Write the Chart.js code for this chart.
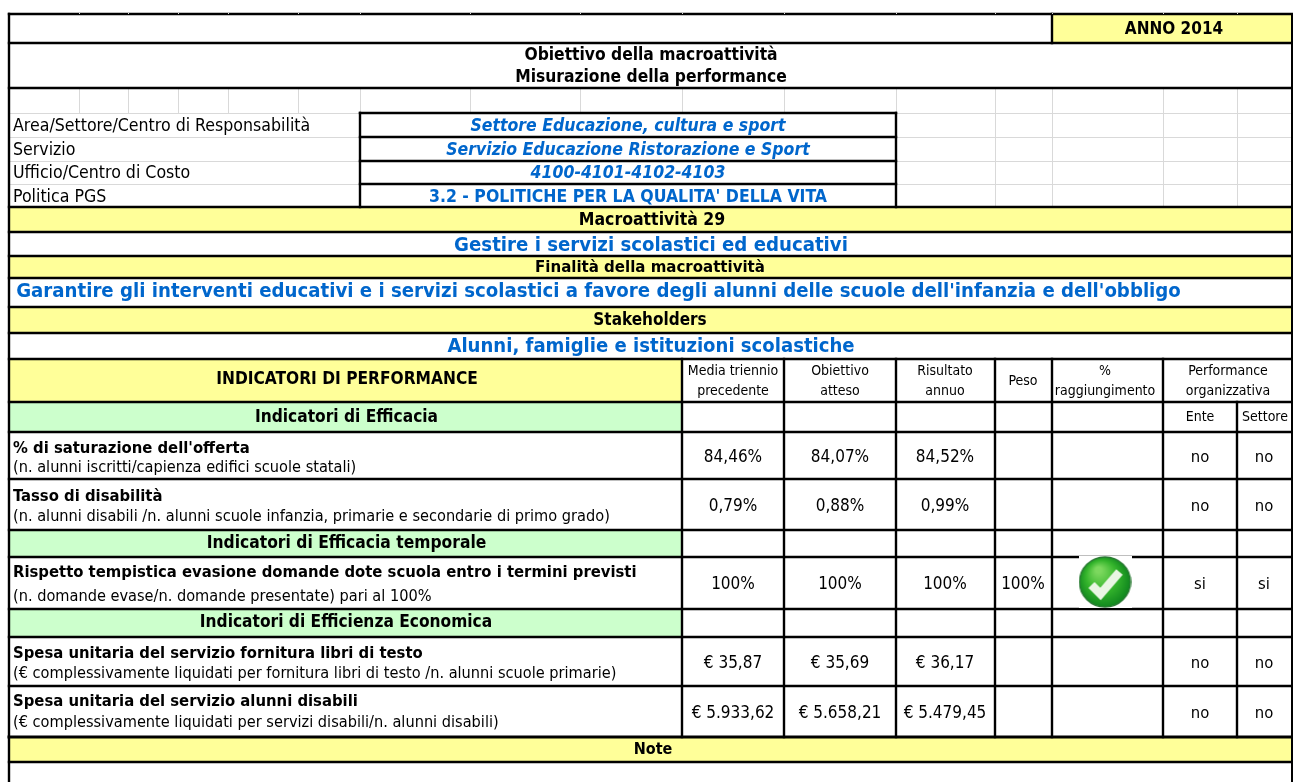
<!DOCTYPE html>
<html>
<head>
<meta charset="utf-8">
<title>Obiettivo della macroattività</title>
<style>
  html, body { margin: 0; padding: 0; background: #fff; }
  canvas { display: block; }
</style>
<script src="https://cdn.jsdelivr.net/npm/chart.js@4/dist/chart.umd.min.js"></script>
</head>
<body>
<canvas id="canvas1" width="1293" height="782"></canvas>
<script>
var anno = 'ANNO 2014';
var titoli = ['Obiettivo della macroattività', 'Misurazione della performance'];
var campi = ['Area/Settore/Centro di Responsabilità', 'Servizio', 'Ufficio/Centro di Costo', 'Politica PGS'];
var campiValori = ['Settore Educazione, cultura e sport', 'Servizio Educazione Ristorazione e Sport', '4100-4101-4102-4103', "3.2 - POLITICHE PER LA QUALITA' DELLA VITA"];
var sezioni = ['Macroattività 29', 'Finalità della macroattività', 'Stakeholders', 'Note'];
var sezioniValori = ['Gestire i servizi scolastici ed educativi', "Garantire gli interventi educativi e i servizi scolastici a favore degli alunni delle scuole dell'infanzia e dell'obbligo", 'Alunni, famiglie e istituzioni scolastiche'];
var gruppi = ['Indicatori di Efficacia', 'Indicatori di Efficacia temporale', 'Indicatori di Efficienza Economica'];
var intestazione = 'INDICATORI DI PERFORMANCE';
var colonne = [['Media triennio', 'precedente'], ['Obiettivo', 'atteso'], ['Risultato', 'annuo'], ['Peso'], ['%', 'raggiungimento'], ['Performance', 'organizzativa']];
var sottoColonne = ['Ente', 'Settore'];
var indicatori = ["% di saturazione dell'offerta", 'Tasso di disabilità', 'Rispetto tempistica evasione domande dote scuola entro i termini previsti', 'Spesa unitaria del servizio fornitura libri di testo', 'Spesa unitaria del servizio alunni disabili'];
var descrizioni = ['(n. alunni iscritti/capienza edifici scuole statali)', '(n. alunni disabili /n. alunni scuole infanzia, primarie e secondarie di primo grado)', '(n. domande evase/n. domande presentate) pari al 100%', '(€ complessivamente liquidati per fornitura libri di testo /n. alunni scuole primarie)', '(€ complessivamente liquidati per servizi disabili/n. alunni disabili)'];
var mediaTriennio = ['84,46%', '0,79%', '100%', '€ 35,87', '€ 5.933,62'];
var obiettivoAtteso = ['84,07%', '0,88%', '100%', '€ 35,69', '€ 5.658,21'];
var risultatoAnnuo = ['84,52%', '0,99%', '100%', '€ 36,17', '€ 5.479,45'];
var peso = ['', '', '100%', '', ''];
var ente = ['no', 'no', 'si', 'no', 'no'];
var settore = ['no', 'no', 'si', 'no', 'no'];

// table layout, in the units of the two axes
var rows = [14, 43, 88, 113, 137, 161, 184, 207, 232, 256, 278, 307, 333, 359, 402, 432, 479, 530, 557, 609, 637, 686, 737, 762, 782];
var topCols = [79, 128, 178, 228, 298, 360, 470, 580, 682, 784, 896, 995, 1052, 1163, 1237];
var cols = [9, 682, 784, 896, 995, 1052, 1163, 1237, 1292];
var boxLeft = 360;
var nameY = [450, 498, 574, 655, 703];
var descY = [468, 517, 597, 674, 723];
var valueY = [459, 508, 586, 665, 715];

var FONT = '"DejaVu Sans Condensed", "DejaVu Sans", "Noto Sans", sans-serif';
var BLUE = '#0066cc';
var YELLOW = '#ffff99';
var GREEN = '#ccffcc';
var LIGHT = '#d9d9d9';
var LEFT = cols[0];
var RIGHT = cols[8];

function fillCell(x0, x1, y0, y1, color) {
  return {
    data: [{x: x0, y: y0}, {x: x1, y: y0}],
    fill: {target: {value: y1}},
    backgroundColor: color,
    borderWidth: 0,
    pointRadius: 0,
    order: 3
  };
}

function rule(x0, y0, x1, y1, color, width) {
  return {
    data: [{x: x0, y: y0}, {x: x1, y: y1}],
    fill: false,
    borderColor: color,
    borderWidth: width,
    borderCapStyle: 'square',
    pointRadius: 0,
    order: color === LIGHT ? 2 : 1
  };
}

function buildDatasets() {
  var sets = [];
  // coloured rows
  [[LEFT, RIGHT, 207, 232], [LEFT, RIGHT, 256, 278], [LEFT, RIGHT, 307, 333], [LEFT, 682, 359, 402], [LEFT, RIGHT, 737, 762], [1052, RIGHT, 14, 43]].forEach(function(c) {
    sets.push(fillCell(c[0], c[1], c[2], c[3], YELLOW));
  });
  [[402, 432], [530, 557], [609, 637]].forEach(function(c) {
    sets.push(fillCell(LEFT, 682, c[0], c[1], GREEN));
  });

  // light sheet grid in the upper part
  topCols.forEach(function(x) {
    sets.push(rule(x + 0.5, 88, x + 0.5, x < 896 ? 113 : 207, LIGHT, 1));
    // small grey notch in the top border
    var notch = rule(x + 0.5, 13, x + 0.5, 14, LIGHT, 1);
    notch.borderCapStyle = 'butt';
    notch.order = 0;
    sets.push(notch);
  });
  [113, 137, 161, 184].forEach(function(y) {
    sets.push(rule(LEFT, y + 0.5, boxLeft, y + 0.5, LIGHT, 1));
    sets.push(rule(896, y + 0.5, RIGHT, y + 0.5, LIGHT, 1));
  });

  // black rules
  rows.slice(0, 3).concat(rows.slice(7, 24)).forEach(function(y) {
    sets.push(rule(LEFT, y, RIGHT, y, '#000', y === 737 ? 3 : 2.4));
  });
  [113, 137, 161, 184].forEach(function(y) {
    sets.push(rule(boxLeft, y, 896, y, '#000', 2.4));
  });
  sets.push(rule(boxLeft, 113, boxLeft, 207, '#000', 2.4));
  sets.push(rule(896, 113, 896, 207, '#000', 2.4));
  sets.push(rule(LEFT, 14, LEFT, 782, '#000', 2.4));
  sets.push(rule(RIGHT, 14, RIGHT, 782, '#000', 2));
  sets.push(rule(1052, 14, 1052, 43, '#000', 2.4));
  cols.slice(1, 7).forEach(function(x) {
    sets.push(rule(x, 359, x, 737, '#000', 2.4));
  });
  sets.push(rule(1237, 402, 1237, 737, '#000', 2.4));

  // the tick of the one reached target
  sets.push({
    data: [{x: 1105, y: 582}],
    pointStyle: makeTick(),
    pointRadius: 1,
    order: 0
  });
  return sets;
}

function makeTick() {
  var c = document.createElement('canvas');
  c.width = 53;
  c.height = 52;
  var g = c.getContext('2d');
  g.fillStyle = '#fff';
  g.fillRect(0, 0, 53, 52);
  var grad = g.createRadialGradient(20, 14, 3, 26, 26, 28);
  grad.addColorStop(0, '#7cd85e');
  grad.addColorStop(0.5, '#35b52c');
  grad.addColorStop(1, '#0a7f1c');
  g.beginPath();
  g.ellipse(26.5, 26, 25.5, 25, 0, 0, Math.PI * 2);
  g.fillStyle = grad;
  g.fill();
  g.lineWidth = 1.4;
  g.strokeStyle = '#2a7a33';
  g.stroke();
  g.beginPath();
  g.moveTo(13, 29);
  g.lineTo(22, 38);
  g.lineTo(41, 16);
  g.lineWidth = 8.5;
  g.lineJoin = 'miter';
  g.strokeStyle = '#eaf6e4';
  g.stroke();
  return c;
}

// every text of the sheet, placed through the chart scales
function buildTexts() {
  var t = [];
  function add(text, x, y, style, align, color, size) {
    t.push({text: text, x: x, y: y, style: style, align: align, color: color, size: size});
  }
  add(anno, 1174, 30, 'bold', 'center', '#000', 17);
  add(titoli[0], 651, 56, 'bold', 'center', '#000', 17.3);
  add(titoli[1], 651, 78, 'bold', 'center', '#000', 17.3);
  var campoY = [126, 150, 173, 197];
  campi.forEach(function(s, i) {
    add(s, 13, campoY[i], 'normal', 'left', '#000', 17.6);
    add(campiValori[i], 628, campoY[i], i < 3 ? 'italic bold' : 'bold', 'center', BLUE, 17.5);
  });
  add(sezioni[0], 652, 220.5, 'bold', 'center', '#000', 17.5);
  add(sezioniValori[0], 651, 246, 'bold', 'center', BLUE, 20.2);
  add(sezioni[1], 650, 268, 'bold', 'center', '#000', 16.7);
  add(sezioniValori[1], 598.5, 292, 'bold', 'center', BLUE, 20.2);
  add(sezioni[2], 650, 321, 'bold', 'center', '#000', 17);
  add(sezioniValori[2], 651, 347, 'bold', 'center', BLUE, 20.1);
  add(intestazione, 347, 380, 'bold', 'center', '#000', 17.2);
  add(sezioni[3], 653, 750, 'bold', 'center', '#000', 16);

  var centres = [733, 840, 945, 1023, 1105, 1200, 1264];
  colonne.forEach(function(lines, i) {
    if (lines.length === 1) add(lines[0], centres[i], 381, 'normal', 'center', '#000', 14);
    else {
      var cx = i === 5 ? 1228 : centres[i];
      add(lines[0], cx, 371, 'normal', 'center', '#000', 14);
      add(lines[1], cx, 391, 'normal', 'center', '#000', 14);
    }
  });
  add(sottoColonne[0], 1200, 417, 'normal', 'center', '#000', 14);
  add(sottoColonne[1], 1265, 417, 'normal', 'center', '#000', 14);

  add(gruppi[0], 346.5, 418, 'bold', 'center', '#000', 17.2);
  add(gruppi[1], 346.5, 544, 'bold', 'center', '#000', 17.3);
  add(gruppi[2], 346, 623, 'bold', 'center', '#000', 17.2);

  indicatori.forEach(function(s, i) {
    add(s, 13, nameY[i] - 1, 'bold', 'left', '#000', 16.5);
    add(descrizioni[i], 13, descY[i], 'normal', 'left', '#000', 16.2);
    var y = valueY[i] - 1;
    add(mediaTriennio[i], centres[0], y, 'normal', 'center', '#000', 17);
    add(obiettivoAtteso[i], centres[1], y, 'normal', 'center', '#000', 17);
    add(risultatoAnnuo[i], centres[2], y, 'normal', 'center', '#000', 17);
    add(peso[i], centres[3], y, 'normal', 'center', '#000', 17);
    add(ente[i], centres[5], y, 'normal', 'center', '#000', 16.5);
    add(settore[i], centres[6], y, 'normal', 'center', '#000', 16.5);
  });
  return t;
}

var sheetTexts = {
  id: 'sheetTexts',
  afterDatasetsDraw: function(chart) {
    var ctx = chart.ctx;
    ctx.save();
    ctx.textBaseline = 'middle';
    chart.options.plugins.sheetTexts.items.forEach(function(d) {
      ctx.font = d.style + ' ' + d.size + 'px ' + FONT;
      ctx.fillStyle = d.color;
      ctx.textAlign = d.align;
      ctx.fillText(d.text, chart.scales.x.getPixelForValue(d.x), chart.scales.y.getPixelForValue(d.y));
    });
    ctx.restore();
  }
};

window.onload = function() {
  var ctx = document.getElementById('canvas1').getContext('2d');
  window.mySheet = new Chart(ctx, {
    type: 'line',
    data: {datasets: buildDatasets()},
    plugins: [sheetTexts],
    options: {
      responsive: false,
      animation: false,
      layout: {padding: 0, autoPadding: false},
      scales: {
        x: {type: 'linear', min: 0, max: 1293, display: false},
        y: {type: 'linear', min: 0, max: 782, reverse: true, display: false}
      },
      plugins: {
        legend: {display: false},
        tooltip: {enabled: false},
        sheetTexts: {items: buildTexts()}
      }
    }
  });
};
</script>
</body>
</html>
